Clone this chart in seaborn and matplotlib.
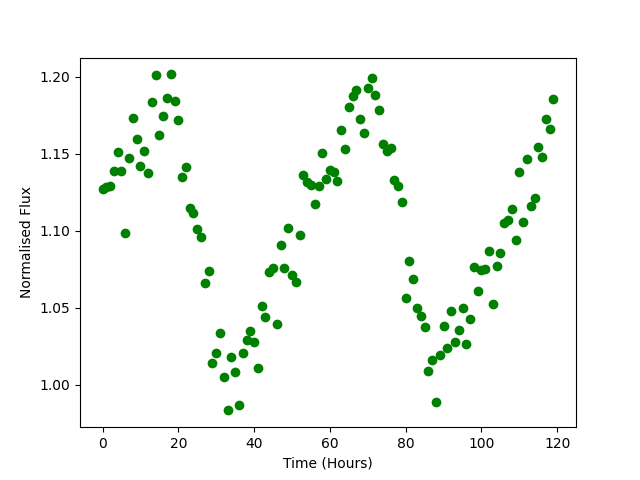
import numpy as np
import pandas as pd
import matplotlib
matplotlib.use('Agg')
import matplotlib.pyplot as plt
import seaborn as sns

# Temps en heures (un point par heure)
hours = list(range(120))

# Flux normalise
flux = [
    1.1268, 1.1281, 1.1289, 1.1384, 1.1508, 1.1384, 1.0982, 1.1469, 1.1729, 1.1592,
    1.1417, 1.1514, 1.1371, 1.1832, 1.2010, 1.1618, 1.1742, 1.1860, 1.2014, 1.1839,
    1.1716, 1.1345, 1.1410, 1.1146, 1.1116, 1.1010, 1.0956, 1.0657, 1.0735, 1.0138,
    1.0203, 1.0332, 1.0047, 0.9832, 1.0177, 1.0079, 0.9865, 1.0203, 1.0287, 1.0345,
    1.0274, 1.0107, 1.0508, 1.0436, 1.0729, 1.0755, 1.0391, 1.0904, 1.0755, 1.1014,
    1.0709, 1.0664, 1.0969, 1.1360, 1.1315, 1.1294, 1.1170, 1.1287, 1.1501, 1.1334,
    1.1391, 1.1380, 1.1319, 1.1651, 1.1527, 1.1800, 1.1873, 1.1912, 1.1722, 1.1631,
    1.1925, 1.1990, 1.1880, 1.1781, 1.1562, 1.1516, 1.1536, 1.1328, 1.1287, 1.1183,
    1.0560, 1.0800, 1.0683, 1.0495, 1.0443, 1.0371, 1.0086, 1.0157, 0.9884, 1.0190,
    1.0378, 1.0235, 1.0475, 1.0274, 1.0354, 1.0495, 1.0261, 1.0423, 1.0761, 1.0605,
    1.0745, 1.0748, 1.0865, 1.0523, 1.0768, 1.0852, 1.1047, 1.1066, 1.1138, 1.0936,
    1.1378, 1.1053, 1.1462, 1.1157, 1.1211, 1.1540, 1.1475, 1.1722, 1.1657, 1.1852,
]

df = pd.DataFrame({'time': hours, 'flux': flux})

fig, ax = plt.subplots(figsize=(6.4, 4.8), dpi=100)
sns.scatterplot(data=df, x='time', y='flux', color='g', edgecolor='g',
                s=36, linewidth=1, ax=ax)
ax.set_xlabel('Time (Hours)')
ax.set_ylabel('Normalised Flux')

plt.savefig('out.png', dpi=100)
